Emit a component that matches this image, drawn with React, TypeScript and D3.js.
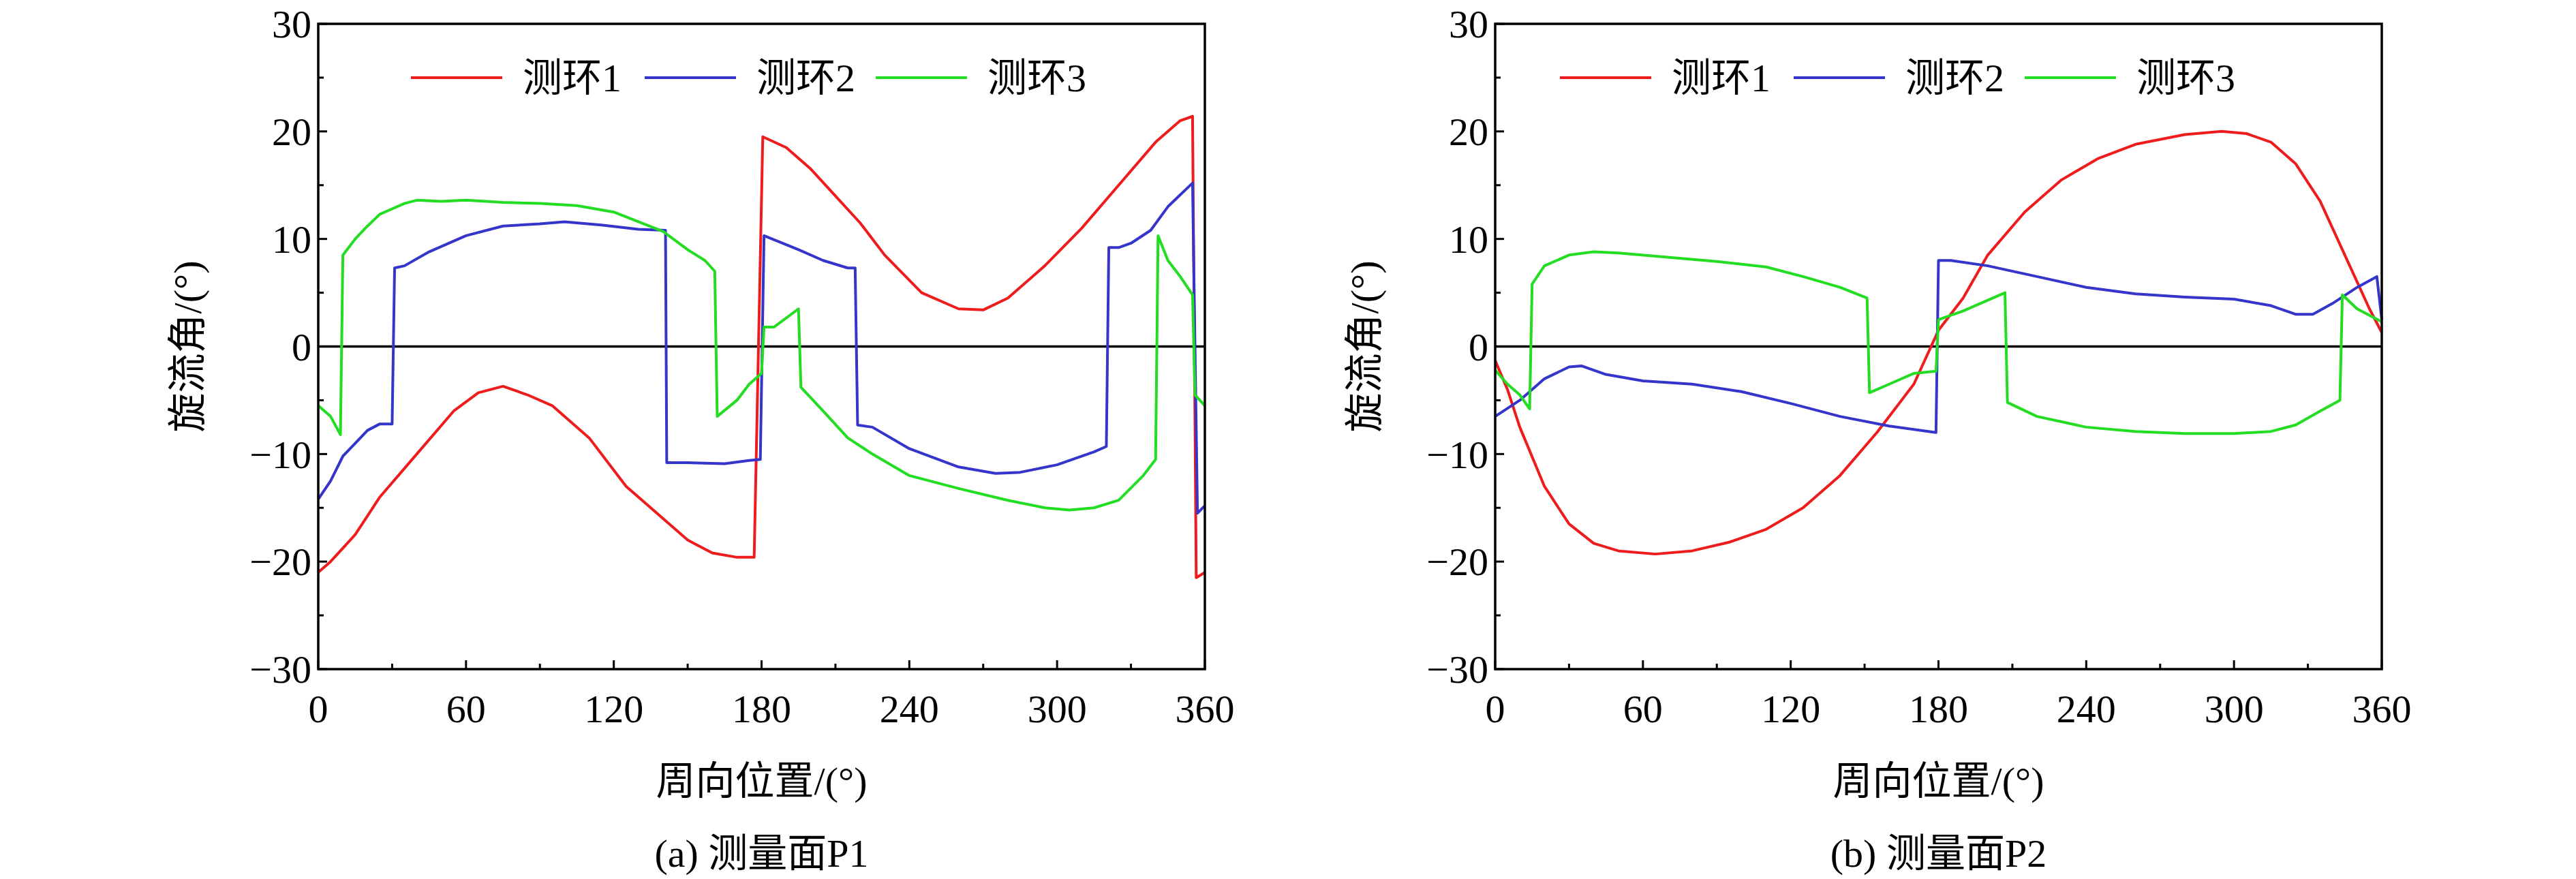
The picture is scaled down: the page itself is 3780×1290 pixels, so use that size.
import React from 'react'
import * as d3 from 'd3'

type Pt = [number, number]

const SERIES_NAMES = ['测环1', '测环2', '测环3']
const COLORS = ['#ee1c1c', '#3535cc', '#22dd22']
const X_TICKS = [0, 60, 120, 180, 240, 300, 360]
const Y_TICKS = [-30, -20, -10, 0, 10, 20, 30]

const P1_RING1: Pt[] = [[0,-21],[5,-20],[15,-17.5],[25,-14],[40,-10],[55,-6],[65,-4.3],[75,-3.7],[85,-4.5],[95,-5.5],[110,-8.5],[125,-13],[140,-16],[150,-18],[160,-19.2],[170,-19.6],[177,-19.6],[180.5,19.5],[190,18.5],[200,16.5],[210,14],[220,11.5],[230,8.5],[245,5],[260,3.5],[270,3.4],[280,4.5],[295,7.5],[310,11],[325,15],[340,19],[350,21],[355,21.4],[356.5,-21.5],[360,-21]]
const P1_RING2: Pt[] = [[0,-14.2],[5,-12.5],[10,-10.2],[15,-9],[20,-7.8],[25,-7.2],[30,-7.2],[31,7.3],[35,7.5],[45,8.8],[60,10.3],[75,11.2],[90,11.4],[100,11.6],[115,11.3],[130,10.9],[141,10.8],[141.5,-10.8],[150,-10.8],[165,-10.9],[175,-10.6],[179.5,-10.5],[181,10.3],[195,9],[205,8],[215,7.3],[218,7.3],[219,-7.3],[225,-7.5],[240,-9.5],[260,-11.2],[275,-11.8],[285,-11.7],[300,-11],[315,-9.8],[320,-9.3],[321,9.2],[325,9.2],[330,9.6],[338,10.8],[345,13],[355,15.2],[357,-15.5],[360,-14.8]]
const P1_RING3: Pt[] = [[0,-5.5],[5,-6.5],[9,-8.2],[10,8.5],[15,10],[20,11.2],[25,12.3],[30,12.8],[35,13.3],[40,13.6],[50,13.5],[60,13.6],[75,13.4],[90,13.3],[105,13.1],[120,12.5],[130,11.6],[140,10.7],[150,9],[157,8],[161,7],[162,-6.5],[170,-5],[175,-3.5],[180,-2.5],[181,1.8],[185,1.8],[195,3.5],[196,-3.8],[205,-6],[215,-8.5],[225,-10],[240,-12],[260,-13.2],[280,-14.3],[295,-15],[305,-15.2],[315,-15],[325,-14.3],[335,-12],[340,-10.5],[341,10.3],[345,8],[350,6.5],[355,4.8],[356,-4.5],[360,-5.5]]

const P2_RING1: Pt[] = [[0,-1.3],[5,-4],[10,-7.5],[20,-13],[30,-16.5],[40,-18.3],[50,-19],[65,-19.3],[80,-19],[95,-18.2],[110,-17],[125,-15],[140,-12],[155,-8],[170,-3.5],[180,1.5],[190,4.5],[200,8.5],[215,12.5],[230,15.5],[245,17.5],[260,18.8],[280,19.7],[295,20],[305,19.8],[315,19],[325,17],[335,13.5],[345,8.5],[355,3.5],[360,1.3]]
const P2_RING2: Pt[] = [[0,-6.5],[10,-5],[20,-3],[30,-1.9],[35,-1.8],[45,-2.6],[60,-3.2],[80,-3.5],[100,-4.2],[120,-5.3],[140,-6.5],[160,-7.4],[179,-8],[180,8],[185,8],[200,7.5],[220,6.5],[240,5.5],[260,4.9],[280,4.6],[300,4.4],[315,3.8],[325,3],[332,3],[340,4],[350,5.5],[358,6.5],[360,2.5]]
const P2_RING3: Pt[] = [[0,-2.2],[5,-3.5],[10,-4.5],[14,-5.8],[15,5.8],[20,7.5],[30,8.5],[40,8.8],[50,8.7],[70,8.3],[90,7.9],[110,7.4],[125,6.5],[140,5.5],[151,4.5],[152,-4.3],[160,-3.5],[170,-2.5],[179,-2.3],[180,2.5],[190,3.3],[200,4.3],[207,5],[208,-5.2],[220,-6.5],[240,-7.5],[260,-7.9],[280,-8.1],[300,-8.1],[315,-7.9],[325,-7.3],[335,-6],[343,-5],[344,4.8],[350,3.5],[360,2.3]]

const PANELS = [
  { left: 467, caption: '(a) 测量面P1', series: [P1_RING1, P1_RING2, P1_RING3], legendX: 603 },
  { left: 2194, caption: '(b) 测量面P2', series: [P2_RING1, P2_RING2, P2_RING3], legendX: 2289 },
]

const W = 3780, H = 1290
const PW = 1301, TOP = 35, BOTTOM = 982
const SERIF = '"Liberation Serif", "Times New Roman", "Noto Sans CJK SC", serif'
const FS = 58

export default function App() {
  const ref = React.useRef<SVGSVGElement>(null)

  React.useEffect(() => {
    const svg = d3.select(ref.current!)
    svg.selectAll('*').remove()
    svg.append('rect').attr('width', W).attr('height', H).attr('fill', '#fff')

    PANELS.forEach(p => {
      const x = d3.scaleLinear().domain([0, 360]).range([p.left, p.left + PW])
      const y = d3.scaleLinear().domain([-30, 30]).range([BOTTOM, TOP])
      const g = svg.append('g')

      // zero line
      g.append('line').attr('x1', x(0)).attr('x2', x(360)).attr('y1', y(0)).attr('y2', y(0))
        .attr('stroke', '#000').attr('stroke-width', 3.5)

      const line = d3.line<Pt>().x(d => x(d[0])).y(d => y(d[1]))
      p.series.forEach((s, i) => {
        g.append('path').attr('d', line(s)!).attr('fill', 'none')
          .attr('stroke', COLORS[i]).attr('stroke-width', 4).attr('stroke-linejoin', 'round')
      })

      // frame
      g.append('rect').attr('x', x(0)).attr('y', TOP).attr('width', PW).attr('height', BOTTOM - TOP)
        .attr('fill', 'none').attr('stroke', '#000').attr('stroke-width', 3.5)

      // ticks (inward)
      d3.range(0, 361, 30).forEach(v => {
        const len = v % 60 === 0 ? 13 : 8
        g.append('line').attr('x1', x(v)).attr('x2', x(v)).attr('y1', BOTTOM).attr('y2', BOTTOM - len)
          .attr('stroke', '#000').attr('stroke-width', 3)
      })
      d3.range(-30, 31, 5).forEach(v => {
        const len = v % 10 === 0 ? 13 : 8
        g.append('line').attr('x1', x(0)).attr('x2', x(0) + len).attr('y1', y(v)).attr('y2', y(v))
          .attr('stroke', '#000').attr('stroke-width', 3)
      })

      X_TICKS.forEach(v => {
        g.append('text').attr('x', x(v)).attr('y', BOTTOM + 78).attr('text-anchor', 'middle')
          .attr('font-family', SERIF).attr('font-size', FS).text(String(v))
      })
      Y_TICKS.forEach(v => {
        g.append('text').attr('x', x(0) - 10).attr('y', y(v)).attr('dy', '0.35em').attr('text-anchor', 'end')
          .attr('font-family', SERIF).attr('font-size', FS).text(v < 0 ? `−${-v}` : String(v))
      })

      g.append('text').attr('transform', `translate(${p.left - 172},${(TOP + BOTTOM) / 2}) rotate(-90)`)
        .attr('text-anchor', 'middle').attr('font-family', SERIF).attr('font-size', FS).text('旋流角/(°)')
      g.append('text').attr('x', x(180)).attr('y', 1166).attr('text-anchor', 'middle')
        .attr('font-family', SERIF).attr('font-size', FS).text('周向位置/(°)')
      g.append('text').attr('x', x(180)).attr('y', 1272).attr('text-anchor', 'middle')
        .attr('font-family', SERIF).attr('font-size', FS).text(p.caption)

      // legend
      const offsets = [0, 343, 682]
      SERIES_NAMES.forEach((name, i) => {
        const lx = p.legendX + offsets[i]
        g.append('line').attr('x1', lx).attr('x2', lx + 134).attr('y1', 114).attr('y2', 114)
          .attr('stroke', COLORS[i]).attr('stroke-width', 4)
        g.append('text').attr('x', lx + 164).attr('y', 114).attr('dy', '0.35em')
          .attr('font-family', SERIF).attr('font-size', FS).text(name)
      })
    })
  }, [])

  return <svg ref={ref} width={W} height={H} style={{ position: 'absolute', left: 0, top: 0 }} />
}
